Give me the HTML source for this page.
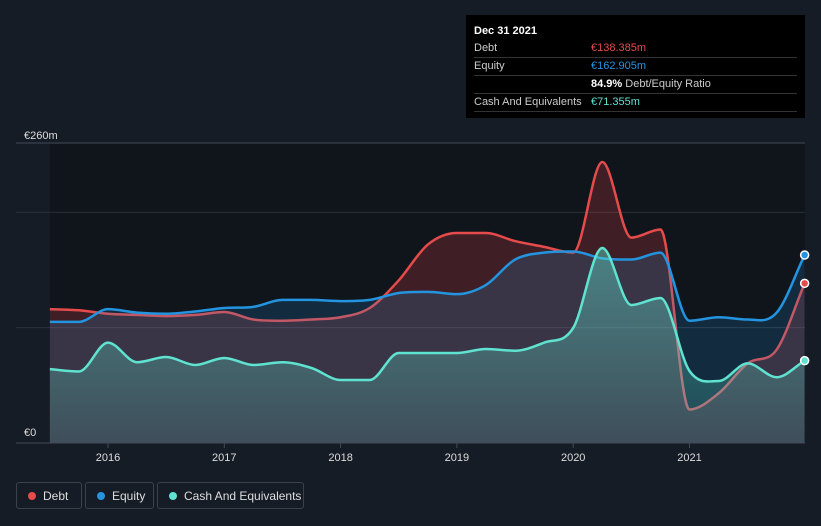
<!DOCTYPE html>
<html><head><meta charset="utf-8"><style>
body{margin:0;width:821px;height:526px;background:#161c26;font-family:"Liberation Sans",sans-serif;overflow:hidden;position:relative}
.tip{position:absolute;left:466px;top:15px;width:339px;height:103px;background:#000;color:#fff;font-size:11px}
.tip .row{position:absolute;left:8px;right:8px;border-bottom:1px solid #333;height:17px;line-height:17px}
.tip .l{position:absolute;left:0;color:#ccc}.tip .v{position:absolute;left:117px}
.leg{position:absolute;top:482px;height:27px;border:1px solid #3a414c;border-radius:3px;color:#ddd;font-size:12px;line-height:27px;box-sizing:border-box;padding-left:26px}
.leg i{position:absolute;left:11px;top:9px;width:8px;height:8px;border-radius:50%}
</style></head><body>
<svg id="chart" width="821" height="526" style="position:absolute;left:0;top:0"></svg>
<div class="tip">
<div class="row" style="top:8px;border:none;font-weight:bold;color:#fff"><span class="l" style="color:#fff">Dec 31 2021</span></div>
<div class="row" style="top:25px"><span class="l">Debt</span><span class="v" style="color:#e64b4b">€138.385m</span></div>
<div class="row" style="top:43px"><span class="l">Equity</span><span class="v" style="color:#2394df">€162.905m</span></div>
<div class="row" style="top:61px"><span class="v"><b>84.9%</b> <span style="color:#ccc">Debt/Equity Ratio</span></span></div>
<div class="row" style="top:79px"><span class="l">Cash And Equivalents</span><span class="v" style="color:#5fe3d0">€71.355m</span></div>
</div>
<div class="leg" style="left:16px;width:66px"><i style="background:#e64b4b"></i>Debt</div>
<div class="leg" style="left:85px;width:69px"><i style="background:#2394df"></i>Equity</div>
<div class="leg" style="left:157px;width:147px"><i style="background:#5fe3d0"></i>Cash And Equivalents</div>
<script>
const times=[2015.5,2015.75,2016,2016.25,2016.5,2016.75,2017,2017.25,2017.5,2017.75,2018,2018.25,2018.5,2018.75,2019,2019.25,2019.5,2019.75,2020,2020.25,2020.5,2020.75,2021,2021.25,2021.5,2021.75,2021.99];
const debt=[116,115,112,111,110,111,113.5,107,106,107,109,117,141,172,182,182,175,170,165,243.5,178,185,29,43,69,81,138.385];
const equity=[105,105,116,113,112,114,117,118,124,124,123,124,130,131,129,137,159,165,166,160,159,165,106,109,107,113,162.905];
const cash=[64,62,87,70,74.5,67.6,73.7,67.6,70,65,54.6,54.6,78,78,78,81.5,80,87,99.7,169,119.6,125.7,62.4,53.7,69,57,71.355];
const yTicks=[0,100,200,260];
const xTicks=[2016,2017,2018,2019,2020,2021];
const X=t=>108+(t-2016)*116.3, Y=v=>443-v*300/260;
const svg=document.getElementById('chart'),NS='http://www.w3.org/2000/svg';
function mk(tag,a,name){const e=document.createElementNS(NS,tag);for(const k in a)e.setAttribute(k,a[k]);


svg.appendChild(e);return e;}
mk('rect',{x:X(times[0]),y:143,width:805-X(times[0]),height:300,fill:'#10141b'},'plot-background');
const defs=mk('defs',{},'defs');
defs.innerHTML='<linearGradient id="gc" x1="0" y1="0" x2="0" y2="1"><stop offset="0" stop-color="#5fe3d0" stop-opacity="0.45"/><stop offset="1" stop-color="#5fe3d0" stop-opacity="0.15"/></linearGradient>';
function path(vals){const p=vals.map((v,i)=>[X(times[i]),Y(v)]);const n=p.length;const m=[];
const d=[];for(let i=0;i<n-1;i++)d.push((p[i+1][1]-p[i][1])/(p[i+1][0]-p[i][0]));
for(let i=0;i<n;i++){if(i==0)m.push(d[0]);else if(i==n-1)m.push(d[n-2]);else m.push(d[i-1]*d[i]<=0?0:(d[i-1]+d[i])/2);}
let s='M'+p[0][0]+','+p[0][1];for(let i=0;i<n-1;i++){const h=(p[i+1][0]-p[i][0])/3;
s+=`C${p[i][0]+h},${p[i][1]+m[i]*h} ${p[i+1][0]-h},${p[i+1][1]-m[i+1]*h} ${p[i+1][0]},${p[i+1][1]}`;}return s;}
const base=`L${X(times[times.length-1])},443L${X(times[0])},443Z`;
yTicks.forEach(v=>{if(v>0)mk('line',{x1:16,x2:805,y1:Y(v),y2:Y(v),stroke:v==260?'#444a55':'#2b313b'},'gridline');});
mk('path',{d:path(debt)+base,fill:'#e64b4b',opacity:0.22},'debt-area');
mk('path',{d:path(debt),fill:'none',stroke:'#e64b4b','stroke-width':2.5},'debt-line');
mk('path',{d:path(equity)+base,fill:'#2394df',opacity:0.18},'equity-area');
mk('path',{d:path(equity),fill:'none',stroke:'#2394df','stroke-width':2.5},'equity-line');
mk('path',{d:path(cash)+base,fill:'url(#gc)'},'cash-area');
mk('path',{d:path(cash),fill:'none',stroke:'#5fe3d0','stroke-width':2.5},'cash-line');
mk('line',{x1:16,x2:805,y1:443,y2:443,stroke:'#444a55'},'x-axis');
[[260,'€260m',139],[0,'€0',436]].forEach(a=>{const t=mk('text',{x:24,y:a[2],fill:'#ddd','font-size':11},'y-tick-label');t.textContent=a[1];});
xTicks.forEach(t=>{mk('line',{x1:X(t),x2:X(t),y1:443,y2:448,stroke:'#444a55'},'x-tick');
const e=mk('text',{x:X(t),y:461,fill:'#ddd','font-size':11,'text-anchor':'middle'},'x-tick-label');e.textContent=t;});
const L=times.length-1;
[[debt,'#e64b4b','debt-end-dot'],[equity,'#2394df','equity-end-dot'],[cash,'#5fe3d0','cash-end-dot']].forEach(a=>mk('circle',{cx:X(times[L]),cy:Y(a[0][L]),r:4,fill:a[1],stroke:'#fff','stroke-width':1.5},a[2]));
</script></body></html>
